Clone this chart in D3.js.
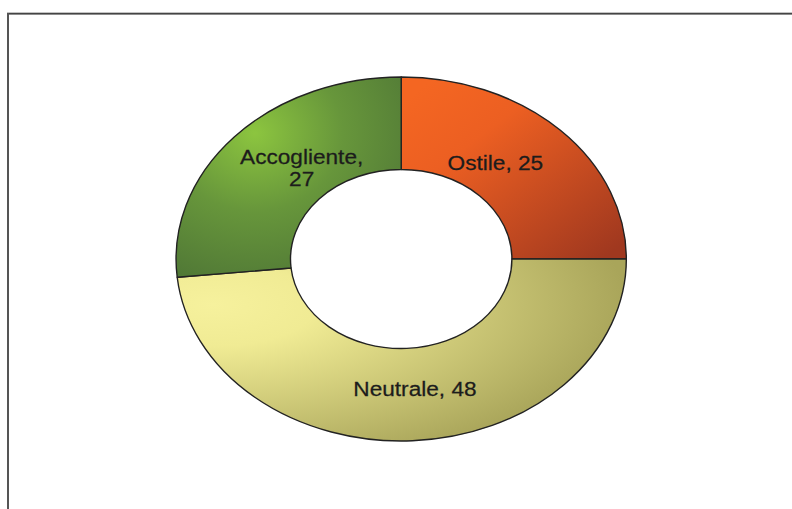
<!DOCTYPE html>
<html>
<head>
<meta charset="utf-8">
<script src="https://cdn.jsdelivr.net/npm/d3@7"></script>
<style>
  html, body { margin: 0; padding: 0; background: #fff; }
  svg { display: block; }
  .lbl { font-family: "Liberation Sans", Arial, sans-serif; font-size: 19.5px; fill: #1c1c1c;
         stroke: #1c1c1c; stroke-width: 0.25px; }
</style>
</head>
<body>
<svg width="792" height="509"></svg>
<script>
// data (slice angles suggest 48.4 / 26.6, labels show rounded values)
const categories = ["Ostile", "Neutrale", "Accogliente"];
const values = [25, 48.4, 26.6];
const wrapLabel = [false, false, true];

const width = 792, height = 509;
const center = {x: 401.2, y: 259};
const outerR = 182, innerR = 89.5;
const stretch = 1.237;           // the donut is drawn as a horizontally stretched circle
const textStretch = 1.16;
// small hand nudges so labels sit where the original ones do
const labelNudge = [[-24.6, -0.5], [5.3, -5.6], [25, 0.5]];

const fmt = d3.format(".0f");
const svg = d3.select('svg');

// frame (only top and left edges fall inside the picture)
svg.append('line').attr('x1', 7).attr('y1', 13).attr('x2', width).attr('y2', 13)
  .attr('stroke', '#888').attr('stroke-width', 1);
svg.append('line').attr('x1', 7).attr('y1', 13.8).attr('x2', width).attr('y2', 13.8)
  .attr('stroke', '#1a1a1a').attr('stroke-width', 1.2);
svg.append('line').attr('x1', 8).attr('y1', 13).attr('x2', 8).attr('y2', height)
  .attr('stroke', '#555').attr('stroke-width', 2);

// gradients
const defs = svg.append('defs');
const gOst = defs.append('linearGradient').attr('id', 'g0')
  .attr('x1', 0.1).attr('y1', 0.05).attr('x2', 0.95).attr('y2', 0.95);
gOst.append('stop').attr('offset', 0).attr('stop-color', '#f46622');
gOst.append('stop').attr('offset', 0.3).attr('stop-color', '#ec5f22');
gOst.append('stop').attr('offset', 1).attr('stop-color', '#a0381f');

const gNeu = defs.append('radialGradient').attr('id', 'g1')
  .attr('cx', 0.08).attr('cy', 0.25).attr('r', 0.92).attr('fx', 0.08).attr('fy', 0.25);
gNeu.append('stop').attr('offset', 0).attr('stop-color', '#f6f19d');
gNeu.append('stop').attr('offset', 0.25).attr('stop-color', '#f0eb94');
gNeu.append('stop').attr('offset', 1).attr('stop-color', '#a9a55a');

const gAcc = defs.append('radialGradient').attr('id', 'g2')
  .attr('cx', 0.35).attr('cy', 0.28).attr('r', 0.78).attr('fx', 0.35).attr('fy', 0.28);
gAcc.append('stop').attr('offset', 0).attr('stop-color', '#8cc53f');
gAcc.append('stop').attr('offset', 0.5).attr('stop-color', '#67963b');
gAcc.append('stop').attr('offset', 1).attr('stop-color', '#517936');

const pie = d3.pie().sort(null).value(d => d);
const arcs = pie(values);
const arc = d3.arc().innerRadius(innerR).outerRadius(outerR);

const donut = svg.append('g')
  .attr('transform', `translate(${center.x},${center.y}) scale(${stretch},1)`);

donut.selectAll('path')
  .data(arcs)
  .enter()
  .append('path')
  .attr('d', arc)
  .attr('fill', (d, i) => `url(#g${i})`)
  .attr('stroke', '#222')
  .attr('stroke-width', 1.4)
  .attr('stroke-linejoin', 'round')
  .attr('vector-effect', 'non-scaling-stroke');

// labels
const labels = svg.append('g');
arcs.forEach((d, i) => {
  const c = arc.centroid(d);
  const x = center.x + c[0] * stretch + labelNudge[i][0];
  const y = center.y + c[1] + labelNudge[i][1];
  const lines = wrapLabel[i]
    ? [categories[i] + ',', fmt(values[i])]
    : [categories[i] + ', ' + fmt(values[i])];
  const lineH = 22;
  const t = labels.append('text')
    .attr('class', 'lbl')
    .attr('text-anchor', 'middle')
    .attr('transform', `translate(${x},${y}) scale(${textStretch},1)`);
  lines.forEach((s, k) => {
    t.append('tspan')
      .attr('x', 0)
      .attr('y', 7 - (lines.length - 1) * lineH / 2 + k * lineH)
      .text(s);
  });
});
</script>
</body>
</html>
